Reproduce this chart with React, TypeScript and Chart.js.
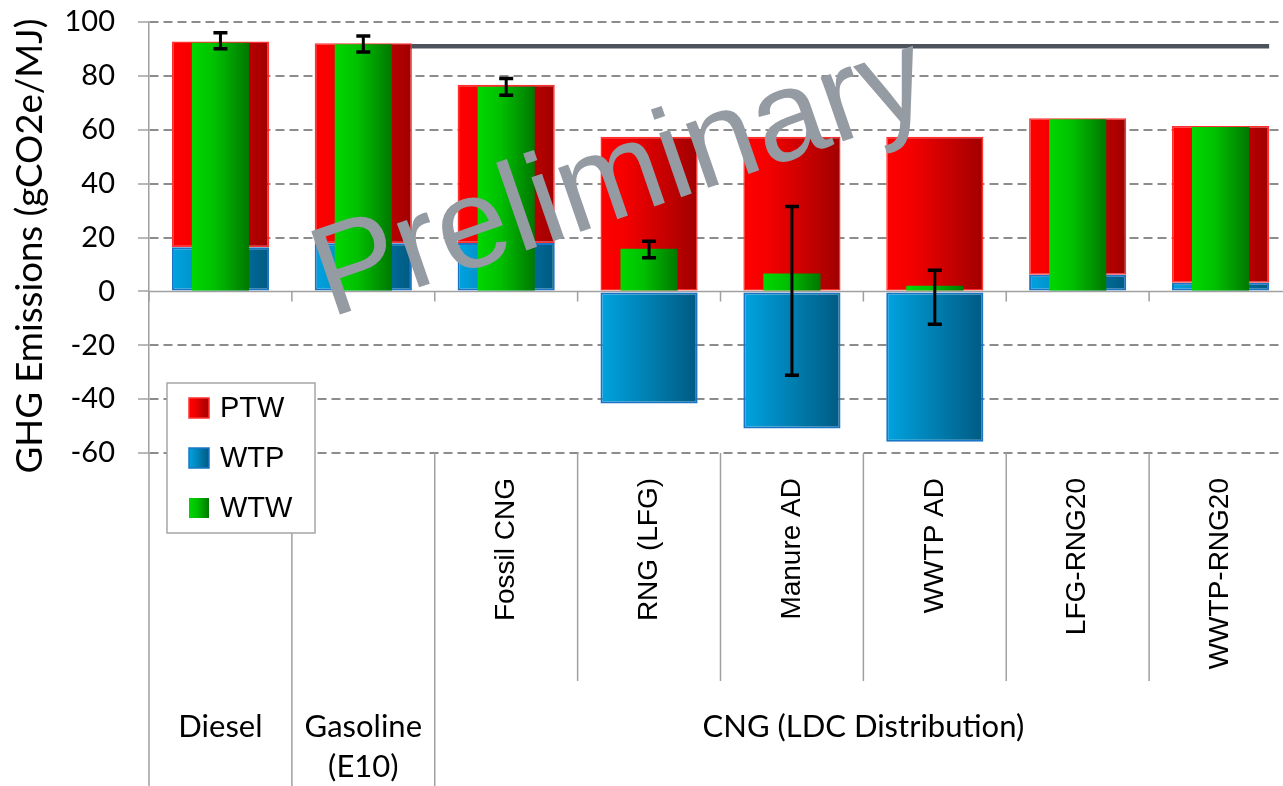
import React, { useEffect, useRef } from 'react';
import { Chart, registerables } from 'chart.js';

Chart.register(...registerables);

// ---------- data ----------
const categories = ['Diesel', 'Gasoline (E10)', 'Fossil CNG', 'RNG (LFG)', 'Manure AD', 'WWTP AD', 'LFG-RNG20', 'WWTP-RNG20'];
const subLabels = ['', '', 'Fossil CNG', 'RNG (LFG)', 'Manure AD', 'WWTP AD', 'LFG-RNG20', 'WWTP-RNG20'];
const groupLabels = [['Diesel'], ['Gasoline', '(E10)'], ['CNG (LDC Distribution)']];
const groupSpans = [1, 1, 6];

const wtpValues = [16.4, 17.9, 18.0, -41.6, -50.9, -55.8, 6.2, 3.2];
const ptwValues = [76.4, 74.2, 58.7, 57.4, 57.4, 57.4, 58.1, 58.2];
const wtwValues = [92.3, 91.7, 76.0, 15.8, 6.6, 2.1, 63.9, 61.0];
const wtwErrHigh = [96.0, 94.8, 79.0, 18.6, 31.5, 7.8, null, null];
const wtwErrLow = [90.1, 88.9, 72.8, 12.5, -31.1, -12.2, null, null];

const refLineValue = 91.0;
const refLineFrom = 1; // category index (Gasoline)
const refLineTo = 7.34;

const yTicks = { min: -60, max: 100, step: 20 };
const yTitle = 'GHG Emissions (gCO2e/MJ)';
const legendNames = ['PTW', 'WTP', 'WTW'];
const watermark = 'Preliminary';

// ---------- styles ----------
const W = 1300;
const H = 786;
const RED: [number, string][] = [[0, '#ff0000'], [0.25, '#f50000'], [1, '#a00000']];
const BLUE: [number, string][] = [[0, '#00a3e0'], [1, '#005a82']];
const GREEN: [number, string][] = [[0, '#00d800'], [0.4, '#00c000'], [1, '#007800']];
const AXIS = '#a0a0a0';
const LABEL_FONT = 'Lato, "Open Sans", sans-serif';
const ARIAL = '"Liberation Sans", Arial, sans-serif';

export default function App() {
  const ref = useRef<HTMLCanvasElement>(null);

  useEffect(() => {
    const canvas = ref.current;
    if (!canvas) return;
    const N = categories.length;

    const grad = (stops: [number, string][], pct: number, axis: string) => (c: any) => {
      const chart = c.chart;
      const area = chart.chartArea;
      const sc = chart.scales[axis];
      if (!area || !sc || c.dataIndex === undefined) return stops[0][1];
      const cx = sc.getPixelForValue(c.dataIndex);
      const half = ((area.right - area.left) / N) * pct / 2;
      const g = chart.ctx.createLinearGradient(cx - half, 0, cx + half, 0);
      stops.forEach(([o, col]) => g.addColorStop(o, col));
      return g;
    };

    const deco = {
      id: 'deco',
      beforeDatasetsDraw(chart: any) {
        const { ctx, chartArea: a, scales } = chart;
        const y0 = scales.y.getPixelForValue(0);
        const catW = (a.right - a.left) / N;
        ctx.save();
        ctx.strokeStyle = AXIS;
        ctx.lineWidth = 1.5;
        ctx.beginPath();
        ctx.moveTo(a.left, y0);
        ctx.lineTo(a.right, y0);
        for (let i = 0; i <= N; i++) {
          const bx = a.left + catW * i;
          ctx.moveTo(bx, y0);
          ctx.lineTo(bx, y0 + 10);
        }
        ctx.stroke();
        ctx.restore();
      },
      afterDatasetsDraw(chart: any) {
        const { ctx, scales } = chart;
        ctx.save();
        ctx.strokeStyle = '#000';
        for (let i = 0; i < N; i++) {
          const hi = wtwErrHigh[i];
          const lo = wtwErrLow[i];
          if (hi === null || lo === null) continue;
          const cx = scales.x.getPixelForValue(i);
          const yh = scales.y.getPixelForValue(hi);
          const yl = scales.y.getPixelForValue(lo);
          ctx.lineWidth = 3;
          ctx.beginPath();
          ctx.moveTo(cx, yh);
          ctx.lineTo(cx, yl);
          ctx.stroke();
          ctx.lineWidth = 3.5;
          ctx.beginPath();
          ctx.moveTo(cx - 7, yh);
          ctx.lineTo(cx + 7, yh);
          ctx.moveTo(cx - 7, yl);
          ctx.lineTo(cx + 7, yl);
          ctx.stroke();
        }
        ctx.restore();
      },
      afterDraw(chart: any) {
        const { ctx, chartArea: a, scales } = chart;
        const catW = (a.right - a.left) / N;
        ctx.save();

        // category separators below the plot
        const groupEdges = [0];
        groupSpans.forEach((s) => groupEdges.push(groupEdges[groupEdges.length - 1] + s));
        ctx.strokeStyle = AXIS;
        ctx.lineWidth = 1.5;
        ctx.beginPath();
        for (let i = 0; i <= N; i++) {
          const bx = a.left + catW * i;
          const full = groupEdges.includes(i);
          ctx.moveTo(bx, a.bottom);
          ctx.lineTo(bx, full ? H : a.bottom + 228);
        }
        ctx.stroke();

        // rotated sub labels
        ctx.fillStyle = '#000';
        ctx.font = `28px ${ARIAL}`;
        subLabels.forEach((lab, i) => {
          if (!lab) return;
          ctx.save();
          ctx.translate(scales.x.getPixelForValue(i), a.bottom + 25);
          ctx.rotate(-Math.PI / 2);
          ctx.textAlign = 'right';
          ctx.textBaseline = 'middle';
          ctx.fillText(lab, 0, 0);
          ctx.restore();
        });

        // group labels
        ctx.font = `31px ${LABEL_FONT}`;
        ctx.textAlign = 'center';
        ctx.textBaseline = 'middle';
        groupLabels.forEach((lines, g) => {
          const cx = a.left + catW * (groupEdges[g] + groupEdges[g + 1]) / 2;
          lines.forEach((ln, k) => ctx.fillText(ln, cx, a.bottom + 274 + k * 40));
        });

        // y-axis title
        ctx.save();
        ctx.translate(30, a.top + 224);
        ctx.rotate(-Math.PI / 2);
        ctx.font = `32px ${LABEL_FONT}`;
        const tw = ctx.measureText(yTitle).width;
        const fs = 32 * 455 / tw;
        ctx.font = `${fs.toFixed(1)}px ${LABEL_FONT}`;
        ctx.textAlign = 'center';
        ctx.textBaseline = 'middle';
        ctx.fillText(yTitle, 0, 0);
        ctx.restore();

        // legend
        const lx = a.left + 18;
        const ly = a.top + 361;
        ctx.fillStyle = '#fff';
        ctx.fillRect(lx, ly, 148, 150);
        ctx.strokeStyle = '#a6a6a6';
        ctx.lineWidth = 1.5;
        ctx.strokeRect(lx, ly, 148, 150);
        const fills = [RED, BLUE, GREEN];
        const borders = ['#ff3030', '#1b75c6', null];
        legendNames.forEach((name, k) => {
          const cy = ly + 25 + k * 50;
          const sx = lx + 22;
          const g = ctx.createLinearGradient(sx, 0, sx + 20, 0);
          fills[k].forEach(([o, col]) => g.addColorStop(o, col));
          ctx.fillStyle = g;
          ctx.fillRect(sx, cy - 10, 20, 20);
          if (borders[k]) {
            ctx.strokeStyle = borders[k] as string;
            ctx.lineWidth = 1.5;
            ctx.strokeRect(sx, cy - 10, 20, 20);
          }
          ctx.fillStyle = '#000';
          ctx.font = `29px ${ARIAL}`;
          ctx.textAlign = 'left';
          ctx.textBaseline = 'middle';
          ctx.fillText(name, sx + 31, cy + 1);
        });

        // watermark
        ctx.save();
        ctx.translate(330, 318);
        ctx.rotate(-19 * Math.PI / 180);
        ctx.font = `128px ${ARIAL}`;
        ctx.fillStyle = '#959ba2';
        ctx.textAlign = 'left';
        ctx.textBaseline = 'alphabetic';
        ctx.fillText(watermark, 0, 0);
        ctx.restore();

        ctx.restore();
      },
    };

    const chart = new Chart(canvas, {
      type: 'bar',
      data: {
        labels: categories,
        datasets: [
          {
            label: 'WTW',
            data: wtwValues,
            xAxisID: 'x2',
            order: 0,
            grouped: false,
            backgroundColor: grad(GREEN, 0.4, 'x2'),
            borderWidth: 0,
            barPercentage: 0.4,
            categoryPercentage: 1,
          } as any,
          {
            label: 'WTP',
            data: wtpValues,
            xAxisID: 'x',
            order: 1,
            grouped: false,
            backgroundColor: grad(BLUE, 0.68, 'x'),
            borderColor: '#1b75c6',
            borderWidth: 2,
            borderSkipped: false,
            barPercentage: 0.68,
            categoryPercentage: 1,
          } as any,
          {
            label: 'PTW',
            data: ptwValues,
            xAxisID: 'x',
            order: 2,
            grouped: false,
            backgroundColor: grad(RED, 0.68, 'x'),
            borderColor: '#ff3030',
            borderWidth: 1.5,
            borderSkipped: false,
            barPercentage: 0.68,
            categoryPercentage: 1,
          } as any,
          {
            type: 'line',
            label: 'ref',
            data: [
              { x: refLineFrom, y: refLineValue },
              { x: refLineTo, y: refLineValue },
            ],
            xAxisID: 'x3',
            order: 3,
            borderColor: '#4d535a',
            borderWidth: 4.5,
            pointRadius: 0,
            fill: false,
          } as any,
        ],
      },
      options: {
        responsive: false,
        animation: false,
        devicePixelRatio: 1,
        layout: { padding: { top: 22, right: 8, left: 0, bottom: 0 } },
        plugins: { legend: { display: false }, tooltip: { enabled: false } },
        scales: {
          x: {
            type: 'category',
            stacked: true,
            offset: true,
            grid: { display: false },
            border: { display: false },
            ticks: { display: false },
            afterFit: (s: any) => { s.height = H - 453; },
          },
          x2: {
            type: 'category',
            display: false,
            offset: true,
            stacked: true,
          },
          x3: {
            type: 'linear',
            display: false,
            offset: false,
            min: -0.5,
            max: categories.length - 0.5,
          },
          y: {
            min: yTicks.min,
            max: yTicks.max,
            stacked: true,
            ticks: {
              stepSize: yTicks.step,
              color: '#000',
              font: { family: LABEL_FONT, size: 29 },
              padding: 23,
            },
            grid: {
              color: (c: any) => (c.tick && c.tick.value === 0 ? 'rgba(0,0,0,0)' : '#8c8c8c'),
              lineWidth: 2,
              tickLength: 11,
              tickColor: AXIS,
              tickWidth: 1.5,
            },
            border: { display: true, color: AXIS, width: 1.5, dash: [9, 5] },
            afterFit: (s: any) => { s.width = 149; s.paddingTop = 0; s.paddingBottom = 0; },
          },
        },
      } as any,
      plugins: [deco],
    });

    return () => chart.destroy();
  }, []);

  return (
    <div style={{ position: 'fixed', left: 0, top: 0, width: 1283, height: 786, overflow: 'hidden', background: '#fff' }}>
      <canvas ref={ref} width={W} height={H} style={{ display: 'block', width: W, height: H }} />
    </div>
  );
}
